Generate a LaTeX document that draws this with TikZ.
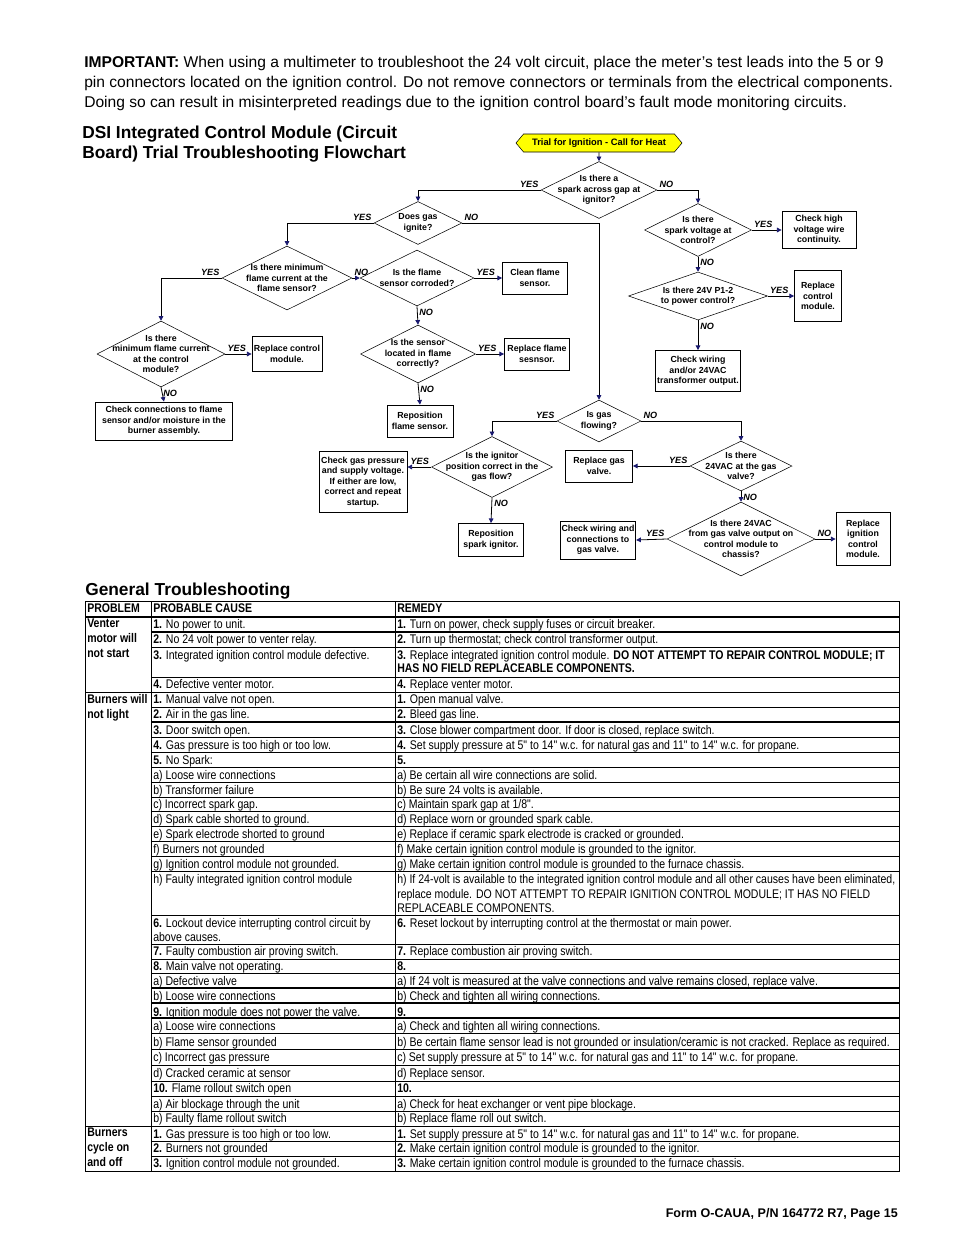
\documentclass[tikz,border=0pt]{standalone}
\usepackage{fontspec}
\setmainfont{Liberation Sans}
\newfontfamily\narrowfont[FakeStretch=0.84]{Liberation Sans}
\usetikzlibrary{shapes.geometric, shapes.symbols, arrows.meta}
\definecolor{tipblue}{RGB}{25,25,110}
\definecolor{signyellow}{RGB}{255,255,0}

\newcommand{\flowfont}{\fontsize{6.6}{7.9}\selectfont\bfseries}
\newcommand{\ynfont}{\fontsize{6.8}{8}\selectfont\bfseries\itshape}
\newcommand{\tabfont}{\fontsize{9.4}{11}\selectfont\narrowfont}
\newcommand{\notefont}{\fontsize{11.7}{15}\selectfont}

\tikzset{
  dia/.style={diamond, draw, line width=0.4pt, inner sep=0pt},
  box/.style={draw, line width=0.6pt, align=center, inner sep=1pt, font=\flowfont},
  qtxt/.style={align=center, font=\flowfont, inner sep=0pt},
  yn/.style={font=\ynfont, inner sep=1.5pt},
  flow/.style={line width=0.6pt, -{Triangle[length=3.5pt, width=3.5pt, color=tipblue]}},
  cell/.style={anchor=base west, inner sep=0pt, font=\tabfont},
  thinrule/.style={line width=0.6pt},
  thickrule/.style={line width=1.3pt}
}

\begin{document}
\begin{tikzpicture}[x=0.75pt, y=-0.75pt]
  \useasboundingbox (0,0) rectangle (954,1235);
  % Note at the top
  \node[anchor=base west, inner sep=0pt, font=\notefont] (imp1) at (84,67)
    {\textbf{IMPORTANT:} When using a multimeter to troubleshoot the 24 volt circuit, place the meter’s test leads into the 5 or 9};
  \node[anchor=base west, inner sep=0pt, font=\notefont] (imp2) at (84,87)
    {pin connectors located on the ignition control. Do not remove connectors or terminals from the electrical components.};
  \node[anchor=base west, inner sep=0pt, font=\notefont] (imp3) at (84,107)
    {Doing so can result in misinterpreted readings due to the ignition control board’s fault mode monitoring circuits.};
  % Headings
  \node[anchor=base west, inner sep=0pt, font=\fontsize{13}{15}\selectfont\bfseries] (head1) at (82,138)
    {DSI Integrated Control Module (Circuit};
  \node[anchor=base west, inner sep=0pt, font=\fontsize{13}{15}\selectfont\bfseries] (head2) at (82,158)
    {Board) Trial Troubleshooting Flowchart};
  \node[anchor=base west, inner sep=0pt, font=\fontsize{13}{15}\selectfont\bfseries] (head3) at (85,595)
    {General Troubleshooting};

  % Flowchart: start
  \node[signal, signal to=west and east, signal pointer angle=100, draw, fill=signyellow,
        minimum width=166*.75pt, minimum height=18*.75pt, inner sep=1pt,
        font=\fontsize{7}{8}\selectfont\bfseries] (start) at (599,143) {Trial for Ignition - Call for Heat};
  % Decisions
  \node[dia, minimum width=116*.75pt, minimum height=57*.75pt,
        label={[qtxt]center:{Is there a\\spark across gap at\\ignitor?}}] (spark) at (599,190) {};
  \node[dia, minimum width=88*.75pt, minimum height=43*.75pt,
        label={[qtxt]center:{Does gas\\ignite?}}] (ignite) at (418,223) {};
  \node[dia, minimum width=107*.75pt, minimum height=53*.75pt,
        label={[qtxt]center:{Is there\\spark voltage at\\control?}}] (sparkv) at (698,230) {};
  \node[dia, minimum width=139*.75pt, minimum height=48*.75pt,
        label={[qtxt]center:{Is there 24V P1-2\\to power control?}}] (pwr) at (698,296) {};
  \node[dia, minimum width=130*.75pt, minimum height=64*.75pt,
        label={[qtxt]center:{Is there minimum\\flame current at the\\flame sensor?}}] (minfs) at (287,278) {};
  \node[dia, minimum width=114*.75pt, minimum height=56*.75pt,
        label={[qtxt]center:{Is the flame\\sensor corroded?}}] (corrode) at (417,278) {};
  \node[dia, minimum width=115*.75pt, minimum height=58*.75pt,
        label={[qtxt]center:{Is the sensor\\located in flame\\correctly?}}] (located) at (418,354) {};
  \node[dia, minimum width=128*.75pt, minimum height=66*.75pt,
        label={[qtxt]center:{Is there\\minimum flame current\\at the control\\module?}}] (minctl) at (161,354) {};
  \node[dia, minimum width=84*.75pt, minimum height=42*.75pt,
        label={[qtxt]center:{Is gas\\flowing?}}] (gasflow) at (599,421) {};
  \node[dia, minimum width=121*.75pt, minimum height=61*.75pt,
        label={[qtxt]center:{Is the ignitor\\position correct in the\\gas flow?}}] (ignpos) at (492,467) {};
  \node[dia, minimum width=102*.75pt, minimum height=50*.75pt,
        label={[qtxt]center:{Is there\\24VAC at the gas\\valve?}}] (vac) at (741,466) {};
  \node[dia, minimum width=148*.75pt, minimum height=74*.75pt,
        label={[qtxt]center:{Is there 24VAC\\from gas valve output on\\control module to\\chassis?}}] (vacout) at (741,539) {};
  % Actions
  \node[box, minimum width=74*.75pt, minimum height=37*.75pt] (hvwire) at (819,230) {Check high\\voltage wire\\continuity.};
  \node[box, minimum width=47*.75pt, minimum height=51*.75pt] (repctl) at (818,296) {Replace\\control\\module.};
  \node[box, minimum width=82*.75pt, minimum height=41*.75pt] (chkwire) at (698,371) {Check wiring\\and/or 24VAC\\transformer output.};
  \node[box, minimum width=65*.75pt, minimum height=32*.75pt] (clean) at (535,278) {Clean flame\\sensor.};
  \node[box, minimum width=65*.75pt, minimum height=32*.75pt] (repfs) at (537,354) {Replace flame\\sesnsor.};
  \node[box, minimum width=66*.75pt, minimum height=32*.75pt] (repos) at (420,421) {Reposition\\flame sensor.};
  \node[box, minimum width=70*.75pt, minimum height=35*.75pt] (repctl2) at (287,354) {Replace control\\module.};
  \node[box, minimum width=137*.75pt, minimum height=38*.75pt] (chkconn) at (164,421)
    {Check connections to flame\\sensor and/or moisture in the\\burner assembly.};
  \node[box, minimum width=88*.75pt, minimum height=61*.75pt] (chkgas) at (363,482)
    {Check gas pressure\\and supply voltage.\\If either are low,\\correct and repeat\\startup.};
  \node[box, minimum width=65*.75pt, minimum height=33*.75pt] (repspark) at (491,540) {Reposition\\spark ignitor.};
  \node[box, minimum width=67*.75pt, minimum height=32*.75pt] (repvalve) at (599,466) {Replace gas\\valve.};
  \node[box, minimum width=73*.75pt, minimum height=38*.75pt] (chkvalve) at (598,540) {Check wiring and\\connections to\\gas valve.};
  \node[box, minimum width=54*.75pt, minimum height=53*.75pt] (repign) at (863,539) {Replace\\ignition\\control\\module.};

  % Connectors
  \draw[flow] (start) -- (spark);
  \draw[flow] (spark.west) node[yn, above left] (y1) {YES} -| (ignite.north);
  \draw[flow] (spark.east) node[yn, above right] (n1) {NO} -| (sparkv.north);
  \draw[flow] (sparkv.east) node[yn, above right] (y2) {YES} -- (hvwire.west);
  \draw[flow] (sparkv.south) node[yn, below right] (n2) {NO} -- (pwr.north);
  \draw[flow] (pwr.east) node[yn, above right] (y3) {YES} -- (repctl.west);
  \draw[flow] (pwr.south) node[yn, below right] (n3) {NO} -- (chkwire.north);
  \draw[flow] (ignite.west) node[yn, above left] (y4) {YES} -| (minfs.north);
  \draw[flow] (ignite.east) node[yn, above right] (n4) {NO} -| (gasflow.north);
  \draw[flow] (minfs.east) node[yn, above right] (n5) {NO} -- (corrode.west);
  \draw[flow] (corrode.east) node[yn, above right] (y5) {YES} -- (clean.west);
  \draw[flow] (corrode.south) node[yn, below right] (n6) {NO} -- (located.north);
  \draw[flow] (located.east) node[yn, above right] (y6) {YES} -- (repfs.west);
  \draw[flow] (located.south) node[yn, below right] (n7) {NO} -- (repos.north);
  \draw[flow] (minfs.west) node[yn, above left] (y7) {YES} -| (minctl.north);
  \draw[flow] (minctl.east) node[yn, above right] (y8) {YES} -- (repctl2.west);
  \draw[flow] (minctl.south) node[yn, below right] (n8) {NO} -- (chkconn.north);
  \draw[flow] (gasflow.west) node[yn, above left] (y9) {YES} -| (ignpos.north);
  \draw[flow] (gasflow.east) node[yn, above right] (n9) {NO} -| (vac.north);
  \draw[flow] (ignpos.west) node[yn, above left] (y10) {YES} -- (ignpos.west -| chkgas.east);
  \draw[flow] (ignpos.south) node[yn, below right] (n10) {NO} -- (repspark.north);
  \draw[flow] (vac.west) node[yn, above left] (y11) {YES} -- (repvalve.east);
  \draw[flow] (vac.south) node[yn, below right] (n11) {NO} -- (vacout.north);
  \draw[flow] (vacout.west) node[yn, above left] (y12) {YES} -- (chkvalve.east);
  \draw[flow] (vacout.east) node[yn, above right] (n12) {NO} -- (repign.west);

  % Table rules
  \draw[thinrule] (85,601) rectangle (899,1171);
  \draw[thinrule] (151,601) -- (151,1171);
  \draw[thinrule] (395,601) -- (395,1171);
  \draw[thickrule] (85,617) -- (899,617);
  \draw[thinrule] (85,692) -- (899,692);
  \draw[thinrule] (85,1126) -- (899,1126);
  \foreach \yy in {647,677,707,737,752,767,782,797,811,826,841,856,871,915,944,959,973,1033,1049,1065,1081,1096,1111,1141,1156}
    \draw[thinrule] (151,\yy) -- (899,\yy);
  \foreach \yy in {632,722,988,1003,1018}
    \draw[thickrule] (151,\yy) -- (899,\yy);

  % Table header and problems
  \node[cell, font=\tabfont\bfseries] (hprob) at (87,612) {PROBLEM};
  \node[cell, font=\tabfont\bfseries] (hcause) at (153,612) {PROBABLE CAUSE};
  \node[cell, font=\tabfont\bfseries] (hrem) at (397,612) {REMEDY};
  \node[cell, font=\tabfont\bfseries, align=left, anchor=north west] (p1) at (87,619) {Venter\\motor will\\not start};
  \node[cell, font=\tabfont\bfseries, align=left, anchor=north west] (p2) at (87,694) {Burners will\\not light};
  \node[cell, font=\tabfont\bfseries, align=left, anchor=north west] (p3) at (87,1128) {Burners\\cycle on\\and off};

  % Table rows
  \foreach \yb/\cause/\remedy [count=\i] in {
    628/{\textbf{1.} No power to unit.}/{\textbf{1.} Turn on power, check supply fuses or circuit breaker.},
    643/{\textbf{2.} No 24 volt power to venter relay.}/{\textbf{2.} Turn up thermostat; check control transformer output.},
    659/{\textbf{3.} Integrated ignition control module defective.}/{\textbf{3.} Replace integrated ignition control module. \textbf{DO NOT ATTEMPT TO REPAIR CONTROL MODULE; IT}},
    688/{\textbf{4.} Defective venter motor.}/{\textbf{4.} Replace venter motor.},
    703/{\textbf{1.} Manual valve not open.}/{\textbf{1.} Open manual valve.},
    718/{\textbf{2.} Air in the gas line.}/{\textbf{2.} Bleed gas line.},
    734/{\textbf{3.} Door switch open.}/{\textbf{3.} Close blower compartment door. If door is closed, replace switch.},
    749/{\textbf{4.} Gas pressure is too high or too low.}/{\textbf{4.} Set supply pressure at 5" to 14" w.c. for natural gas and 11" to 14" w.c. for propane.},
    764/{\textbf{5.} No Spark:}/{\textbf{5.}},
    779/{a) Loose wire connections}/{a) Be certain all wire connections are solid.},
    794/{b) Transformer failure}/{b) Be sure 24 volts is available.},
    808/{c) Incorrect spark gap.}/{c) Maintain spark gap at 1/8".},
    823/{d) Spark cable shorted to ground.}/{d) Replace worn or grounded spark cable.},
    838/{e) Spark electrode shorted to ground}/{e) Replace if ceramic spark electrode is cracked or grounded.},
    853/{f) Burners not grounded}/{f) Make certain ignition control module is grounded to the ignitor.},
    868/{g) Ignition control module not grounded.}/{g) Make certain ignition control module is grounded to the furnace chassis.},
    883/{h) Faulty integrated ignition control module}/{h) If 24-volt is available to the integrated ignition control module and all other causes have been eliminated,},
    927/{\textbf{6.} Lockout device interrupting control circuit by}/{\textbf{6.} Reset lockout by interrupting control at the thermostat or main power.},
    955/{\textbf{7.} Faulty combustion air proving switch.}/{\textbf{7.} Replace combustion air proving switch.},
    970/{\textbf{8.} Main valve not operating.}/{\textbf{8.}},
    985/{a) Defective valve}/{a) If 24 volt is measured at the valve connections and valve remains closed, replace valve.},
    1000/{b) Loose wire connections}/{b) Check and tighten all wiring connections.},
    1016/{\textbf{9.} Ignition module does not power the valve.}/{\textbf{9.}},
    1030/{a) Loose wire connections}/{a) Check and tighten all wiring connections.},
    1046/{b) Flame sensor grounded}/{b) Be certain flame sensor lead is not grounded or insulation/ceramic is not cracked. Replace as required.},
    1061/{c) Incorrect gas pressure}/{c) Set supply pressure at 5" to 14" w.c. for natural gas and 11" to 14" w.c. for propane.},
    1077/{d) Cracked ceramic at sensor}/{d) Replace sensor.},
    1092/{\textbf{10.} Flame rollout switch open}/{\textbf{10.}},
    1108/{a) Air blockage through the unit}/{a) Check for heat exchanger or vent pipe blockage.},
    1122/{b) Faulty flame rollout switch}/{b) Replace flame roll out switch.},
    1138/{\textbf{1.} Gas pressure is too high or too low.}/{\textbf{1.} Set supply pressure at 5" to 14" w.c. for natural gas and 11" to 14" w.c. for propane.},
    1152/{\textbf{2.} Burners not grounded}/{\textbf{2.} Make certain ignition control module is grounded to the ignitor.},
    1167/{\textbf{3.} Ignition control module not grounded.}/{\textbf{3.} Make certain ignition control module is grounded to the furnace chassis.}}
  {
    \node[cell] (c\i) at (153,\yb) {\cause};
    \node[cell] (r\i) at (397,\yb) {\remedy};
  }
  % Continuation lines
  \node[cell] (r3b) at (397,672) {\textbf{HAS NO FIELD REPLACEABLE COMPONENTS.}};
  \node[cell] (r17b) at (397,898) {replace module. DO NOT ATTEMPT TO REPAIR IGNITION CONTROL MODULE; IT HAS NO FIELD};
  \node[cell] (r17c) at (397,912) {REPLACEABLE COMPONENTS.};
  \node[cell] (c18b) at (153,941) {above causes.};

  % Footer
  \node[anchor=base east, inner sep=0pt, font=\fontsize{9.4}{11}\selectfont\bfseries] (foot) at (898,1217)
    {Form O-CAUA, P/N 164772 R7, Page 15};
\end{tikzpicture}
\end{document}
